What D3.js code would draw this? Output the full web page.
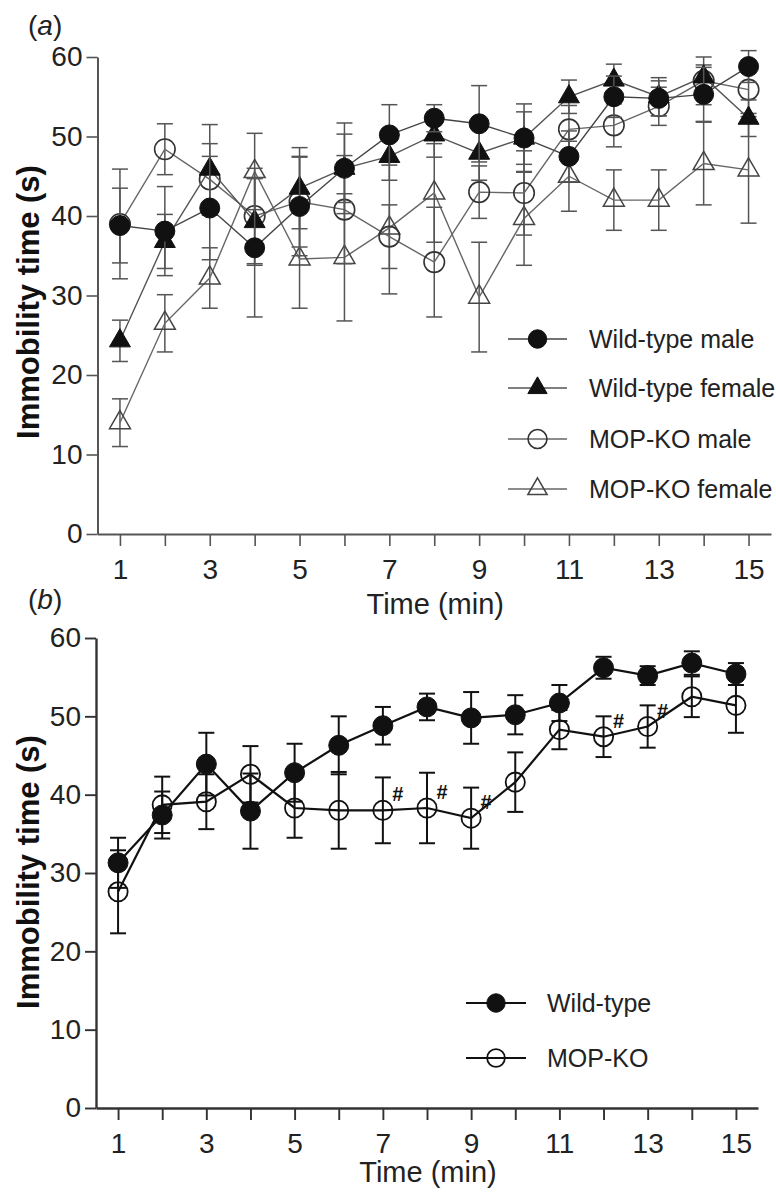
<!DOCTYPE html>
<meta charset="utf-8">
<script src="https://d3js.org/d3.v7.min.js"></script>
<style>
body { margin: 0; background: #fff; }
svg { display: block; font-family: "Liberation Sans", Arial, sans-serif; }
</style>
<body>
</body>
<script>

// time points (min) and axis ticks
var minutes = [1, 2, 3, 4, 5, 6, 7, 8, 9, 10, 11, 12, 13, 14, 15];
var xTickLabels = [1, 3, 5, 7, 9, 11, 13, 15];
var yTicks = [0, 10, 20, 30, 40, 50, 60];

// (a) by sex
var wtMale      = [38.8, 38.1, 41.0, 36.0, 41.2, 46.0, 50.2, 52.3, 51.6, 49.8, 47.5, 55.0, 54.8, 55.3, 58.8];
var wtMaleSem   = [4.7, 5.6, 6.5, 8.7, 6.2, 5.7, 3.8, 1.7, 4.8, 4.3, 3.2, 2.6, 2.2, 3.4, 2.0];
var wtFemale    = [24.3, 36.8, 45.9, 39.3, 43.5, 46.0, 47.5, 50.2, 47.9, 49.8, 55.0, 57.1, 55.0, 57.5, 52.3];
var wtFemaleSem = [2.6, 3.4, 5.6, 5.5, 5.1, 4.3, 3.0, 2.8, 3.4, 3.3, 2.1, 2.0, 2.4, 1.5, 2.3];
var koMale      = [39.0, 48.4, 44.6, 40.0, 41.8, 40.8, 37.4, 34.2, 43.0, 42.9, 50.9, 51.4, 53.8, 57.0, 55.9];
var koMaleSem   = [6.9, 3.2, 4.5, 6.0, 5.7, 6.8, 4.0, 6.9, 3.3, 5.3, 3.0, 2.7, 2.4, 3.0, 3.0];
var koFemale    = [14.0, 26.5, 32.2, 45.6, 34.6, 34.8, 38.5, 42.9, 29.8, 39.7, 45.0, 42.0, 42.0, 46.6, 45.8];
var koFemaleSem = [3.0, 3.6, 3.8, 4.8, 6.2, 8.0, 8.3, 6.2, 6.9, 5.9, 4.4, 3.8, 3.8, 5.2, 6.7];

// (b) pooled
var wtAll    = [31.3, 37.4, 43.9, 37.9, 42.8, 46.3, 48.8, 51.2, 49.8, 50.2, 51.7, 56.2, 55.2, 56.8, 55.4];
var wtAllSem = [3.2, 3.0, 4.0, 4.8, 3.7, 3.7, 2.4, 1.7, 3.3, 2.5, 2.3, 1.4, 1.2, 1.5, 1.4];
var koAll    = [27.6, 38.7, 39.1, 42.6, 38.3, 38.0, 38.0, 38.3, 37.0, 41.6, 48.3, 47.4, 48.7, 52.5, 51.4];
var koAllSem = [5.3, 3.6, 3.5, 3.6, 3.8, 4.9, 4.2, 4.5, 3.9, 3.8, 2.5, 2.6, 2.7, 2.6, 3.5];
var hashMinutes = [7, 8, 9, 12, 13];

var width = 776, height = 1193;

var svg = d3.select("body").append("svg")
  .attr("width", width)
  .attr("height", height);

function points(vals, sems) {
  return minutes.map(function(m, i) { return {m: m, v: vals[i], s: sems[i]}; });
}

function drawAxes(g, x, y, axisColor, axisWidth) {
  var yAxis = g.append("g")
    .attr("transform", "translate(" + x.range()[0] + ",0)")
    .call(d3.axisLeft(y).tickValues(yTicks).tickSize(11).tickSizeOuter(0).tickPadding(4));
  var xAxis = g.append("g")
    .attr("transform", "translate(0," + y.range()[0] + ")")
    .call(d3.axisBottom(x).tickValues(minutes).tickSize(12).tickSizeOuter(0).tickPadding(13)
      .tickFormat(function(d) { return xTickLabels.indexOf(d) >= 0 ? d : ""; }));
  [yAxis, xAxis].forEach(function(a) {
    a.attr("font-family", null).attr("font-size", null);
    a.select(".domain").attr("stroke", axisColor).attr("stroke-width", axisWidth);
    a.selectAll(".tick line").attr("stroke", axisColor).attr("stroke-width", axisWidth * 0.8);
    a.selectAll(".tick text").attr("fill", "#222").style("font-size", "28px");
  });
}

function drawSeries(g, x, y, pts, o) {
  var eb = g.append("g").attr("stroke", o.bar).attr("stroke-width", o.barW);
  eb.selectAll(".stem").data(pts).join("line")
    .attr("x1", function(d) { return x(d.m); })
    .attr("x2", function(d) { return x(d.m); })
    .attr("y1", function(d) { return y(d.v - d.s); })
    .attr("y2", function(d) { return y(d.v + d.s); });
  [-1, 1].forEach(function(sgn) {
    eb.selectAll(".cap" + sgn).data(pts).join("line")
      .attr("x1", function(d) { return x(d.m) - 8; })
      .attr("x2", function(d) { return x(d.m) + 8; })
      .attr("y1", function(d) { return y(d.v + sgn * d.s); })
      .attr("y2", function(d) { return y(d.v + sgn * d.s); });
  });

  g.append("path").datum(pts)
    .attr("fill", "none")
    .attr("stroke", o.line)
    .attr("stroke-width", o.lineW)
    .attr("d", d3.line().x(function(d) { return x(d.m); }).y(function(d) { return y(d.v); }));

  g.selectAll(null).data(pts).join("path")
    .attr("transform", function(d) { return "translate(" + x(d.m) + "," + y(d.v) + ")"; })
    .attr("d", d3.symbol().type(o.shape).size(o.size))
    .attr("fill", o.filled ? "#111" : "none")
    .attr("stroke", o.filled ? "#111" : o.stroke)
    .attr("stroke-width", o.filled ? 1 : o.strokeW);
}

function legendRow(g, x1, x2, yy, tx, label, o) {
  g.append("line").attr("x1", x1).attr("x2", x2).attr("y1", yy).attr("y2", yy)
    .attr("stroke", o.line).attr("stroke-width", o.lineW);
  g.append("path")
    .attr("transform", "translate(" + (x1 + x2) / 2 + "," + yy + ")")
    .attr("d", d3.symbol().type(o.shape).size(o.size * 0.85))
    .attr("fill", o.filled ? "#111" : "none")
    .attr("stroke", o.filled ? "#111" : o.stroke)
    .attr("stroke-width", o.filled ? 1 : o.strokeW);
  g.append("text").attr("x", tx).attr("y", yy + 9)
    .attr("fill", "#222").style("font-size", "25px").text(label);
}

function titles(g, x, y, tag, titleBaseline, yLabelCenter) {
  g.append("text")
    .attr("x", (x.range()[0] + x.range()[1]) / 2 + 1)
    .attr("y", titleBaseline)
    .attr("text-anchor", "middle")
    .attr("fill", "#222").style("font-size", "29px")
    .text("Time (min)");
  g.append("text")
    .attr("transform", "translate(39," + yLabelCenter + ") rotate(-90)")
    .attr("text-anchor", "middle")
    .attr("fill", "#111").style("font-size", "31px").style("font-weight", "bold")
    .text("Immobility time (s)");
  var t = g.append("text").attr("x", 28).attr("y", tag.y)
    .attr("fill", "#222").style("font-size", "28px");
  t.append("tspan").text("(");
  t.append("tspan").style("font-style", "italic").text(tag.letter);
  t.append("tspan").text(")");
}

// ---------- panel (a)
var xa = d3.scaleLinear().domain([0.5, 15.5]).range([97.5, 771]);
var ya = d3.scaleLinear().domain([0, 60]).range([534, 57]);
var ga = svg.append("g");

drawAxes(ga, xa, ya, "#555", 2);

var styleA = {
  koF: {bar: "#555", barW: 1.5, line: "#666", lineW: 1.4, shape: d3.symbolTriangle, size: 190, filled: false, stroke: "#444", strokeW: 1.5},
  koM: {bar: "#555", barW: 1.5, line: "#666", lineW: 1.4, shape: d3.symbolCircle, size: 330, filled: false, stroke: "#333", strokeW: 1.6},
  wtF: {bar: "#555", barW: 1.5, line: "#555", lineW: 1.4, shape: d3.symbolTriangle, size: 190, filled: true},
  wtM: {bar: "#555", barW: 1.5, line: "#444", lineW: 1.4, shape: d3.symbolCircle, size: 314, filled: true}
};

drawSeries(ga, xa, ya, points(koFemale, koFemaleSem), styleA.koF);
drawSeries(ga, xa, ya, points(koMale, koMaleSem), styleA.koM);
drawSeries(ga, xa, ya, points(wtFemale, wtFemaleSem), styleA.wtF);
drawSeries(ga, xa, ya, points(wtMale, wtMaleSem), styleA.wtM);

var la = ga.append("g");
legendRow(la, 508, 567, 339, 589, "Wild-type male", styleA.wtM);
legendRow(la, 508, 567, 388, 589, "Wild-type female", styleA.wtF);
legendRow(la, 508, 567, 439, 589, "MOP-KO male", styleA.koM);
legendRow(la, 508, 567, 489, 589, "MOP-KO female", styleA.koF);

titles(ga, xa, ya, {letter: "a", y: 35}, 614, 302);

// ---------- panel (b)
var xb = d3.scaleLinear().domain([0.5, 15.5]).range([96, 758]);
var yb = d3.scaleLinear().domain([0, 60]).range([1108, 638]);
var gb = svg.append("g");

drawAxes(gb, xb, yb, "#333", 2.4);

var styleB = {
  ko: {bar: "#111", barW: 2, line: "#111", lineW: 2.2, shape: d3.symbolCircle, size: 290, filled: false, stroke: "#111", strokeW: 1.8},
  wt: {bar: "#111", barW: 2, line: "#111", lineW: 2.2, shape: d3.symbolCircle, size: 314, filled: true}
};

drawSeries(gb, xb, yb, points(koAll, koAllSem), styleB.ko);
drawSeries(gb, xb, yb, points(wtAll, wtAllSem), styleB.wt);

gb.selectAll(".hash").data(hashMinutes).join("text")
  .attr("class", "hash")
  .attr("x", function(m) { return xb(m) + 15; })
  .attr("y", function(m) { return yb(koAll[minutes.indexOf(m)]) - 9; })
  .attr("text-anchor", "middle")
  .attr("fill", "#111").style("font-size", "20px").style("font-weight", "bold")
  .text("#");

var lb = gb.append("g");
legendRow(lb, 466, 526, 1003, 547, "Wild-type", styleB.wt);
legendRow(lb, 466, 526, 1058, 547, "MOP-KO", styleB.ko);

titles(gb, xb, yb, {letter: "b", y: 609}, 1182, 872);

</script>
